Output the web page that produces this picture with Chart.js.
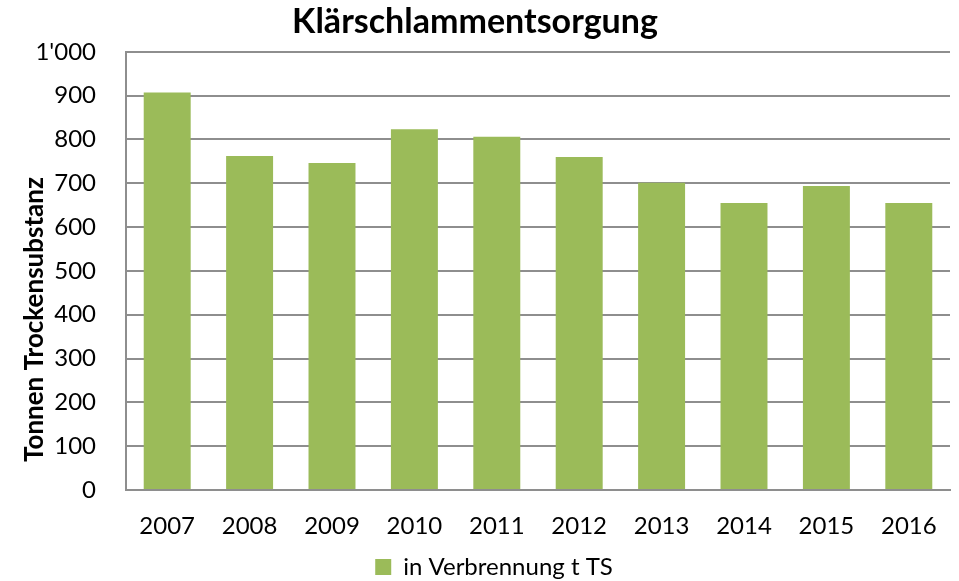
<!DOCTYPE html>
<html>
<head>
<meta charset="utf-8">
<title>Klärschlammentsorgung</title>
<script src="https://cdn.jsdelivr.net/npm/chart.js@4.4.1/dist/chart.umd.min.js"></script>
<style>
    html, body { margin: 0; padding: 0; background: #fff; }
    #chart { display: block; }
</style>
</head>
<body>
<canvas id="chart" width="959" height="581"></canvas>
<script>
const years = ['2007', '2008', '2009', '2010', '2011', '2012', '2013', '2014', '2015', '2016'];
const verbrennung = [907, 762, 746, 823, 806, 760, 701, 655, 694, 655];
const yTicks = [0, 100, 200, 300, 400, 500, 600, 700, 800, 900, 1000];
const seriesLabel = 'in Verbrennung t TS';
const chartTitle = 'Klärschlammentsorgung';
const yTitle = 'Tonnen Trockensubstanz';

const fontFamily = 'Lato, "Open Sans", sans-serif';
const gridGray = '#8e8e8e';

// 1000 -> 1'000
function formatThousands(v) {
    return String(v).replace(/\B(?=(\d{3})+(?!\d))/g, "'");
}

// y axis title sits a bit below the middle of the plot in the original,
// so it is drawn here instead of via scales.y.title
const yTitlePlugin = {
    id: 'yTitle',
    afterDraw: function (chart) {
        const c = chart.ctx;
        const area = chart.chartArea;
        c.save();
        c.translate(35, area.bottom - 28);
        c.rotate(-Math.PI / 2);
        c.font = 'bold 26px ' + fontFamily;
        c.fillStyle = '#000';
        c.textAlign = 'left';
        c.textBaseline = 'middle';
        c.fillText(yTitle, 0, 0);
        c.restore();
    }
};

// nudge the legend right and down like in the original
const legendShift = {
    id: 'legendShift',
    afterLayout: function (chart) {
        chart.legend.left += 19;
        chart.legend.right += 19;
        chart.legend.top += 8;
        chart.legend.bottom += 8;
    }
};

const ctx = document.getElementById('chart').getContext('2d');
new Chart(ctx, {
    type: 'bar',
    data: {
        labels: years,
        datasets: [{
            label: seriesLabel,
            data: verbrennung,
            backgroundColor: '#9bbb59',
            borderWidth: 0,
            barPercentage: 0.57,
            categoryPercentage: 1.0
        }]
    },
    plugins: [yTitlePlugin, legendShift],
    options: {
        responsive: false,
        animation: false,
        layout: {
            padding: { left: 0, right: 9, top: 0, bottom: 0 }
        },
        plugins: {
            title: {
                display: true,
                text: chartTitle,
                color: '#000',
                font: { family: fontFamily, size: 34, weight: 'bold' },
                padding: { top: 2, bottom: 9 }
            },
            legend: {
                position: 'bottom',
                labels: {
                    color: '#000',
                    font: { family: fontFamily, size: 24 },
                    boxWidth: 16,
                    boxHeight: 16,
                    padding: 0
                }
            },
            tooltip: { enabled: false }
        },
        scales: {
            x: {
                grid: { display: false },
                border: { display: true, color: gridGray, width: 2 },
                ticks: {
                    color: '#000',
                    font: { family: fontFamily, size: 24 },
                    padding: 14,
                    maxRotation: 0
                },
                afterFit: function (scale) {
                    scale.height = 57;
                }
            },
            y: {
                min: 0,
                max: 1000,
                afterBuildTicks: function (scale) {
                    scale.ticks = yTicks.map(v => ({ value: v }));
                },
                grid: {
                    color: gridGray,
                    lineWidth: 2,
                    drawTicks: false
                },
                border: { display: true, color: gridGray, width: 2 },
                ticks: {
                    color: '#000',
                    font: { family: fontFamily, size: 24 },
                    padding: 30,
                    callback: function (value) {
                        return formatThousands(value);
                    }
                },
                afterFit: function (scale) {
                    scale.width = 126;
                }
            }
        }
    }
});
</script>
</body>
</html>
